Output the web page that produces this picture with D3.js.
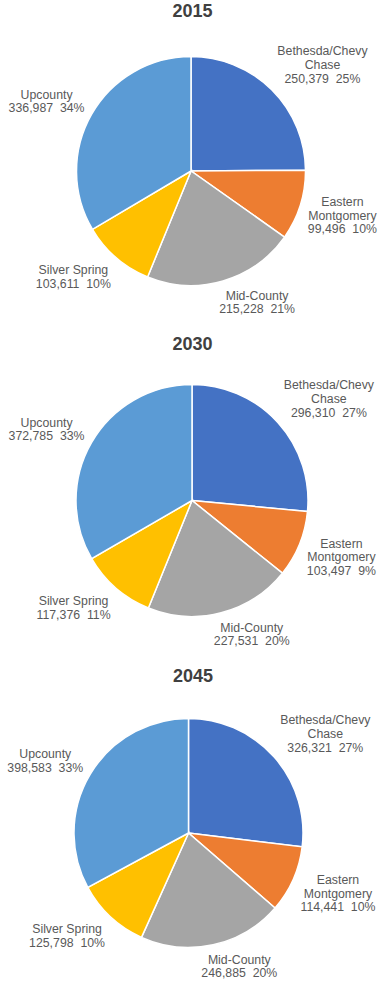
<!DOCTYPE html>
<meta charset="utf-8">
<style>
  body { margin: 0; background: #fff; }
  .title { font-family: "Liberation Sans", Arial, sans-serif; font-size: 18px; font-weight: bold; fill: #404040; }
  .lbl { font-family: "Liberation Sans", Arial, sans-serif; font-size: 12.3px; fill: #595959; white-space: pre; }
  .slices path { stroke: #fff; stroke-width: 1.5px; }
</style>
<svg width="390" height="981"></svg>
<script src="https://d3js.org/d3.v7.min.js"></script>
<script>
var categories = ["Bethesda/Chevy Chase", "Eastern Montgomery", "Mid-County", "Silver Spring", "Upcounty"];
var labelLines = [["Bethesda/Chevy", "Chase"], ["Eastern", "Montgomery"], ["Mid-County"], ["Silver Spring"], ["Upcounty"]];
var years = ["2015", "2030", "2045"];

var values2015 = [250379, 99496, 215228, 103611, 336987];
var values2030 = [296310, 103497, 227531, 117376, 372785];
var values2045 = [326321, 114441, 246885, 125798, 398583];

var pct2015 = [25, 10, 21, 10, 34];
var pct2030 = [27, 9, 20, 11, 33];
var pct2045 = [27, 10, 20, 10, 33];

var colors = ["#4472C4", "#ED7D31", "#A5A5A5", "#FFC000", "#5B9BD5"];

var allValues = [values2015, values2030, values2045];
var allPct = [pct2015, pct2030, pct2045];

// where each of the three pasted charts sits
var panels = [
  {tx: 192.5, ty: 17,  cx: 191,   cy: 171,   r: 114.5},
  {tx: 192.5, ty: 350, cx: 192,   cy: 500.5, r: 116},
  {tx: 193,   ty: 682, cx: 188.5, cy: 833,   r: 114.5}
];

var svg = d3.select("svg");
var fmt = d3.format(",");
var color = d3.scaleOrdinal().domain(categories).range(colors);

var pie = d3.pie().sort(null).value(function(d) { return d.value; });
var lineH = 13.7;
var pad = 8;

function clamp(v) { return Math.max(-1, Math.min(1, v)); }

years.forEach(function(yr, i) {
  var p = panels[i];
  var data = categories.map(function(c, j) {
    return {name: c, lines: labelLines[j], value: allValues[i][j], pct: allPct[i][j]};
  });

  svg.append("text")
      .attr("class", "title")
      .attr("x", p.tx)
      .attr("y", p.ty)
      .attr("text-anchor", "middle")
      .text(yr);

  var arc = d3.arc().innerRadius(0).outerRadius(p.r);

  var g = svg.append("g")
      .attr("class", "slices")
      .attr("transform", "translate(" + p.cx + "," + p.cy + ")");

  var arcs = pie(data);

  g.selectAll("path")
    .data(arcs)
    .enter()
    .append("path")
      .attr("d", arc)
      .attr("fill", function(d) { return color(d.data.name); });

  // Excel style outside-end labels: box sits against the rim at the mid angle
  arcs.forEach(function(d) {
    var lines = d.data.lines.concat([fmt(d.data.value) + "  " + d.data.pct + "%"]);
    var lg = g.append("g");
    var t = lg.append("text")
        .attr("class", "lbl")
        .attr("text-anchor", "middle");
    lines.forEach(function(s, k) {
      t.append("tspan").attr("x", 0).attr("y", k * lineH).text(s);
    });
    var bb = lg.node().getBBox();
    var a = (d.startAngle + d.endAngle) / 2;
    var ax = (p.r + pad) * Math.sin(a);
    var ay = -(p.r + pad) * Math.cos(a);
    var bx = ax + bb.width / 2 * clamp(3 * Math.sin(a));
    var by = ay - bb.height / 2 * clamp(1.3 * Math.cos(a));
    lg.attr("transform", "translate(" + (bx - (bb.x + bb.width / 2)) + "," + (by - (bb.y + bb.height / 2)) + ")");
  });
});
</script>
